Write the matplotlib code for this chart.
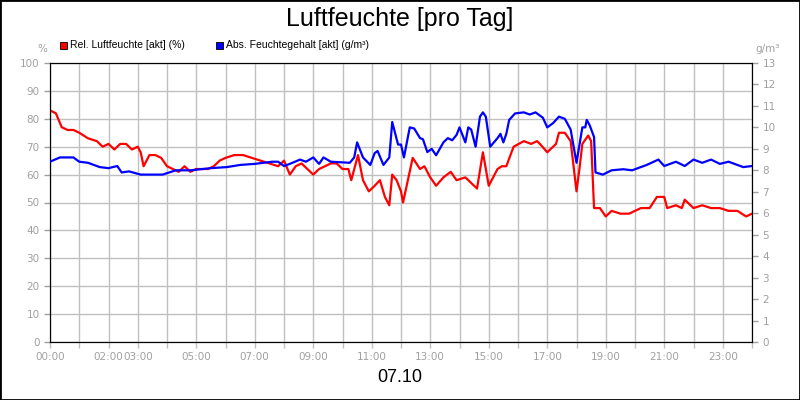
import matplotlib
matplotlib.use("Agg")
import matplotlib.pyplot as plt
from matplotlib.patches import Rectangle

# Stunden / Werte
rel_h = [0.0, 0.2, 0.4, 0.6, 0.8, 1.0, 1.3, 1.6, 1.8, 2.0, 2.2, 2.4, 2.6, 2.8, 3.0, 3.1, 3.2, 3.4, 3.6, 3.8,
         4.0, 4.2, 4.4, 4.6, 4.8, 5.0, 5.2, 5.4, 5.6, 5.8, 6.0, 6.3, 6.6, 6.9, 7.2, 7.5, 7.8, 8.0, 8.2, 8.4,
         8.6, 8.8, 9.0, 9.2, 9.4, 9.6, 9.8, 10.0, 10.2, 10.3, 10.53, 10.7, 10.9, 11.1, 11.28, 11.45, 11.6,
         11.7, 11.85, 12.0, 12.07, 12.4, 12.65, 12.8, 13.0, 13.2, 13.45, 13.7, 13.9, 14.2, 14.6, 14.8, 15.0,
         15.3, 15.45, 15.6, 15.85, 16.2, 16.45, 16.65, 16.75, 17.0, 17.3, 17.4, 17.6, 17.8, 18.0, 18.1, 18.2,
         18.4, 18.5, 18.6, 18.8, 19.0, 19.2, 19.5, 19.8, 20.2, 20.5, 20.75, 21.0, 21.1, 21.4, 21.6, 21.7,
         22.0, 22.3, 22.6, 22.9, 23.2, 23.5, 23.8, 24.0]
rel_v = [83, 82, 77, 76, 76, 75, 73, 72, 70, 71, 69, 71, 71, 69, 70, 68, 63, 67, 67, 66,
         63, 62, 61, 63, 61, 62, 62, 62, 63, 65, 66, 67, 67, 66, 65, 64, 63, 65, 60, 63,
         64, 62, 60, 62, 63, 64, 64, 62, 62, 58, 67, 58, 54, 56, 58, 52, 49,
         60, 58, 54, 50, 66, 62, 63, 59, 56, 59, 61, 58, 59, 55, 68, 56,
         62, 63, 63, 70, 72, 71, 72, 71, 68, 71, 75, 75, 72, 54, 62, 71,
         74, 72, 48, 48, 45, 47, 46, 46, 48, 48, 52, 52, 48, 49, 48, 51,
         48, 49, 48, 48, 47, 47, 45, 46]

abs_h = [0.0, 0.34, 0.8, 1.0, 1.3, 1.7, 2.0, 2.3, 2.45, 2.7, 3.1, 3.85, 4.3, 4.8, 5.5, 6.05, 6.5, 7.0, 7.6,
         7.8, 8.0, 8.2, 8.55, 8.75, 9.0, 9.2, 9.35, 9.6, 10.25, 10.4, 10.5, 10.7, 10.95, 11.1, 11.2, 11.4,
         11.6, 11.7, 11.9, 12.0, 12.1, 12.3, 12.45, 12.65, 12.75, 12.9, 13.05, 13.2, 13.45, 13.6, 13.75,
         13.9, 14.0, 14.2, 14.3, 14.4, 14.55, 14.7, 14.8, 14.9, 15.05, 15.3, 15.4, 15.5, 15.6, 15.7, 15.9,
         16.2, 16.4, 16.6, 16.85, 17.0, 17.2, 17.4, 17.6, 17.8, 18.0, 18.2, 18.3, 18.35, 18.45, 18.6, 18.65,
         18.9, 19.2, 19.6, 19.9, 20.4, 20.8, 21.0, 21.4, 21.7, 22.0, 22.3, 22.6, 22.9, 23.2, 23.7, 24.0]
abs_v = [8.4, 8.6, 8.6, 8.4, 8.35, 8.15, 8.1, 8.2, 7.9, 7.95, 7.8, 7.8, 8.0, 8.0, 8.1, 8.15, 8.25, 8.3, 8.4,
         8.4, 8.2, 8.3, 8.5, 8.4, 8.6, 8.3, 8.6, 8.4, 8.35, 8.6, 9.3, 8.6, 8.25, 8.8, 8.9, 8.25,
         8.6, 10.25, 9.2, 9.2, 8.6, 10.0, 9.95, 9.5, 9.45, 8.85, 9.0, 8.7, 9.3, 9.5, 9.4,
         9.65, 10.0, 9.3, 10.0, 9.9, 9.1, 10.5, 10.7, 10.5, 9.1, 9.5, 9.7, 9.3, 9.7, 10.35, 10.65,
         10.7, 10.6, 10.7, 10.45, 10.0, 10.2, 10.5, 10.4, 9.9, 8.35, 10.0, 10.0, 10.35, 10.1, 9.55, 7.9,
         7.8, 8.0, 8.05, 8.0, 8.25, 8.5, 8.2, 8.4, 8.2, 8.5, 8.35, 8.5, 8.3, 8.4, 8.15, 8.2]

tick_h = [0, 2, 3, 5, 7, 9, 11, 13, 15, 17, 19, 21, 23]
tick_lbl = ["00:00", "02:00", "03:00", "05:00", "07:00", "09:00", "11:00", "13:00",
            "15:00", "17:00", "19:00", "21:00", "23:00"]

GRID = "#c0c0c0"
TX = "#a0a0a0"

fig = plt.figure(figsize=(8, 4), dpi=100, facecolor="white")
fig.patches.append(Rectangle((0, 0), 1, 1, transform=fig.transFigure, fill=False,
                             edgecolor="black", linewidth=2))
ax = fig.add_axes([0.0625, 0.145, 0.8775, 0.6975])
ax2 = ax.twinx()

ax.plot(rel_h, rel_v, color="#ff0000", linewidth=1.6, zorder=3)
ax2.plot(abs_h, abs_v, color="#0000ff", linewidth=1.6, zorder=3)

ax.set_xlim(0, 24)
ax.set_ylim(0, 100)
ax2.set_ylim(0, 13)
ax.set_xticks(range(25), minor=False)
ax.set_xticklabels([tick_lbl[tick_h.index(h)] if h in tick_h else "" for h in range(25)])
ax.set_yticks(range(0, 101, 10))
ax2.set_yticks(range(0, 14))
ax.grid(True, color=GRID, linewidth=1)
ax.set_axisbelow(True)
for a in (ax, ax2):
    a.tick_params(colors=TX, labelsize=7.5, length=4, width=1)
    a.tick_params(axis="both", labelcolor=TX)
    for s in a.spines.values():
        s.set_color("black")
ax.tick_params(axis="x", colors=GRID, labelcolor=TX)

fig.text(0.5, 0.953, "Luftfeuchte [pro Tag]", ha="center", va="center", fontsize=18,
         family="Liberation Sans")
fig.text(0.5, 0.055, "07.10", ha="center", va="center", fontsize=13, family="Liberation Sans")
fig.text(0.053, 0.878, "%", ha="center", va="center", fontsize=7.5, color=TX)
fig.text(0.96, 0.878, "g/m³", ha="center", va="center", fontsize=7.5, color=TX)

# Legende
for x, col, lbl in [(0.075, "#ff0000", "Rel. Luftfeuchte [akt] (%)"),
                    (0.27, "#0000ff", "Abs. Feuchtegehalt [akt] (g/m³)")]:
    fig.patches.append(Rectangle((x, 0.878), 0.009, 0.018, transform=fig.transFigure,
                                 facecolor=col, edgecolor="black", linewidth=0.6))
    fig.text(x + 0.013, 0.887, lbl, ha="left", va="center", fontsize=7.5,
             family="Liberation Sans")

fig.savefig("out.png", dpi=100, facecolor="white")
